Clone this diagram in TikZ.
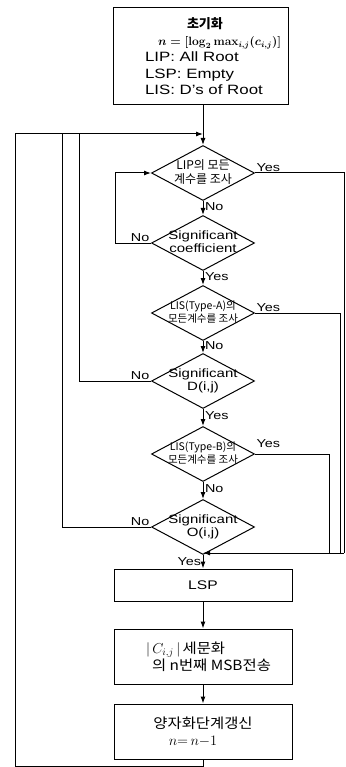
\documentclass[tikz,border=0pt]{standalone}
\usepackage{amsmath}
\usepackage{graphicx}
\usepackage[no-math]{fontspec}
\setmainfont{Liberation Sans}
\newfontfamily\kr{Noto Sans CJK KR}
\usepackage{tikz}
\usetikzlibrary{positioning,arrows.meta,shapes.geometric}

% wide letters as in the scanned chart
\newcommand{\sx}[1]{\scalebox{1.25}[1]{#1}}
\newcommand{\kx}[1]{\scalebox{1.1}[1]{\kr #1}}
% text that does not widen the diamond
\newcommand{\dtxt}[1]{\smash{\makebox[0pt]{\raisebox{-.3em}{%
  \begin{tabular}{@{}c@{}}#1\end{tabular}}}}}
% one line of a box, starting at a given indent
\newcommand{\lineat}[3]{\makebox[#1][l]{\kern#2\relax#3}}

\begin{document}
\begin{tikzpicture}[x=1pt,y=-1pt,
  box/.style={draw,line width=1pt,minimum width=178pt,inner sep=0pt,
  align=center,font=\fontsize{12.5}{15.5}\selectfont},
  dec/.style={diamond,draw,line width=1pt,minimum width=103pt,
  minimum height=55pt,inner sep=0pt,font=\fontsize{12}{13}\selectfont},
  arr/.style={-{Latex[length=7pt,width=5pt]},line width=1pt},
  ln/.style={line width=1pt},
  lab/.style={font=\fontsize{11.5}{12}\selectfont,inner sep=1.5pt},
  node distance=14pt
]
\useasboundingbox (0,0) rectangle (345,767);

\node[box,minimum width=175pt,minimum height=97pt,
  font=\fontsize{13.5}{16.5}\selectfont] (init) at (200.5,56.5) {%
  \lineat{175pt}{74pt}{\fontsize{13}{16.5}\selectfont\kr\bfseries 초기화}\\
  \lineat{175pt}{45pt}{\fontsize{11.5}{16.5}\selectfont\mathversion{bold}%
    $n=[\log_2\max_{i,j}(c_{i,j})]$}\\
  \lineat{175pt}{32pt}{\sx{LIP: All Root}}\\
  \lineat{175pt}{32pt}{\sx{LSP: Empty}}\\
  \lineat{175pt}{32pt}{\sx{LIS: D's of Root}}};
\node[dec] (d1) at (203,173) {\dtxt{\kr LIP의 모든\\\kr 계수를 조사}};
\node[dec,below=of d1] (d2) {\dtxt{\sx{Significant}\\\sx{coefficient}}};
\node[dec,below=of d2] (d3) {\dtxt{\fontsize{10.5}{11.5}\selectfont\kr LIS(Type-A)의\\
  \fontsize{10.5}{11.5}\selectfont\kr 모든계수를 조사}};
\node[dec,below=12pt of d3] (d4) {\dtxt{\sx{Significant}\\\sx{D(i,j)}}};
\node[dec,below=17pt of d4] (d5) {\dtxt{\fontsize{10.5}{11.5}\selectfont\kr LIS(Type-B)의\\
  \fontsize{10.5}{11.5}\selectfont\kr 모든계수를 조사}};
\node[dec,below=17pt of d5] (d6) {\dtxt{\sx{Significant}\\\sx{O(i,j)}}};
\node[box,minimum height=32pt,below=13.5pt of d6] (lsp) {\sx{LSP}};
\node[box,minimum height=55pt,below=27pt of lsp,
  font=\fontsize{14}{17}\selectfont] (send)
  {\lineat{178pt}{32pt}{$|\,C_{i,j}\,|$\,\kx{세문화}}\\
   \lineat{178pt}{38pt}{\kx{의 n번째 MSB전송}}};
\node[box,minimum height=55pt,below=19pt of send,
  font=\fontsize{14}{17}\selectfont] (upd)
  {\kx{양자화단계갱신}\\\hspace*{-20pt}$n{=}\,n{-}1$};

\coordinate (top) at (203,134);
\coordinate (bot) at (203,766);
\coordinate (mrg) at (203,553);

% main chain
\draw[arr] (init.south -| top) -- (d1.north);
\draw[arr] (d1.south) -- node[lab,right,pos=.4] {\sx{No}} (d2.north);
\draw[arr] (d2.south) -- node[lab,right,pos=.4] {\sx{Yes}} (d3.north);
\draw[arr] (d3.south) -- node[lab,right,pos=.4] {\sx{No}} (d4.north);
\draw[arr] (d4.south) -- node[lab,right,pos=.4] {\sx{Yes}} (d5.north);
\draw[arr] (d5.south) -- node[lab,right,pos=.4] {\sx{No}} (d6.north);
\draw[arr] (d6.south) -- node[lab,left,pos=.5] {\sx{Yes}} (lsp.north);
\draw[arr] (lsp) -- (send);
\draw[arr] (send) -- (upd);

% loops on the left
\draw[arr] (d2.west) -- ++(-36,0) |- (d1.west);
\node[lab,above left] at (d2.west) {\sx{No}};
\draw[ln] (d4.west) -| (79,134);
\node[lab,above left] at (d4.west) {\sx{No}};
\draw[ln] (d6.west) -| (62,134);
\node[lab,above left] at (d6.west) {\sx{No}};
\draw[arr] (upd.south) -- (bot) -| (15,134) -- (top);

% yes branches on the right
\draw[ln] (d1.east) -| (344,553);
\node[lab,above right] at (d1.east) {\sx{Yes}};
\draw[ln] (d3.east) -| (340,553);
\node[lab,above right] at (d3.east) {\sx{Yes}};
\draw[ln] (d5.east) -| (329,553);
\node[lab,above right,yshift=5pt] at (d5.east) {\sx{Yes}};
\draw[arr] (344,553) -- (mrg);
\end{tikzpicture}
\end{document}
